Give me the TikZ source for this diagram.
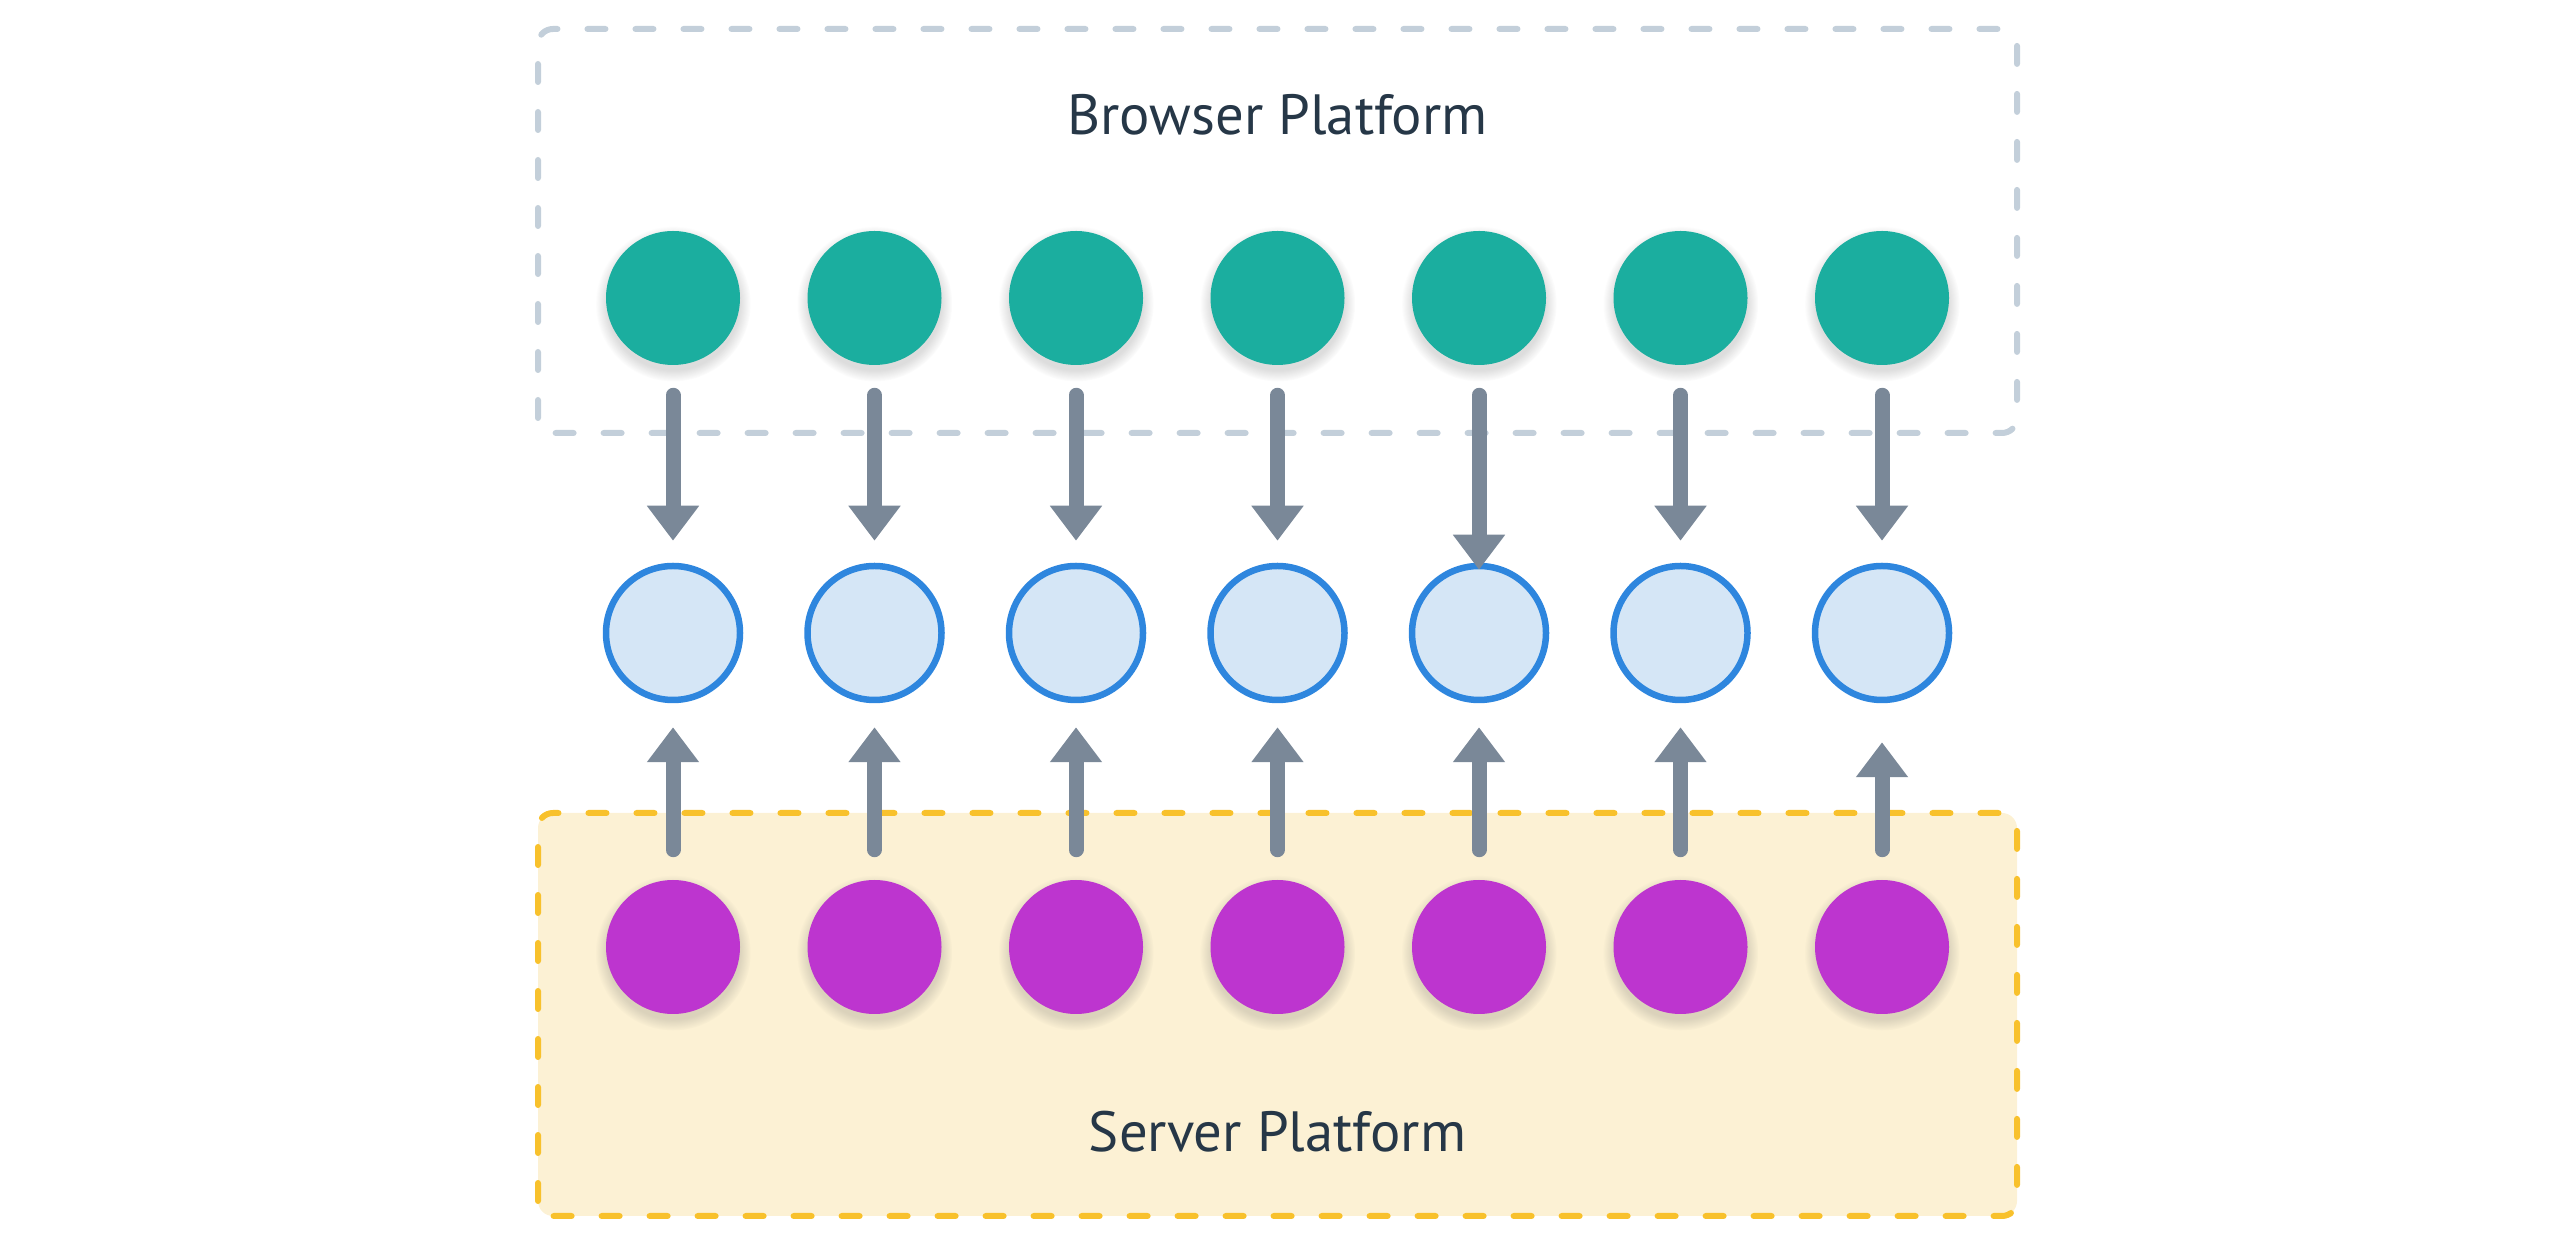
\documentclass[tikz,border=0pt]{standalone}
\usepackage{fontspec}
\setmainfont{PT Sans}
\usepackage{tikz}
\usetikzlibrary{arrows.meta,shadows}
\definecolor{tealdot}{HTML}{1BAE9F}
\definecolor{violetdot}{HTML}{BD35CF}
\definecolor{ringblue}{HTML}{2E86DE}
\definecolor{ringfill}{HTML}{D5E6F6}
\definecolor{slatearrow}{HTML}{7A8898}
\definecolor{mistline}{HTML}{C3CFDA}
\definecolor{goldline}{HTML}{F8C12C}
\definecolor{goldfill}{HTML}{FCF1D4}
\definecolor{inktext}{HTML}{263747}
\newcommand{\platformfont}{\fontsize{41}{48}\selectfont}

\begin{document}
\begin{tikzpicture}[x=1in,y=1in,
  dotshadow/.style={circular drop shadow={shadow xshift=0in, shadow yshift=-0.05in,
    shadow scale=1.16, opacity=0.22, fill=black!60}},
  browserdot/.style={circle, fill=tealdot, minimum size=1.34in, inner sep=0pt, dotshadow},
  serverdot/.style={circle, fill=violetdot, minimum size=1.34in, inner sep=0pt, dotshadow},
  bridgering/.style={circle, draw=ringblue, fill=ringfill, line width=0.065in,
    minimum size=1.34in, inner sep=0pt, outer sep=auto},
  platformbox/.style={line width=0.06in, dash pattern=on 0.18in off 0.30in,
    line cap=round, rounded corners=0.15in},
  flow/.style={draw=slatearrow, fill=slatearrow, line width=0.15in, line cap=round,
    -{Triangle[width=0.50in, length=0.35in]},
    shorten <=0.30in},
  platformlabel/.style={font=\platformfont, text=inktext, anchor=base, inner sep=0pt}]
\useasboundingbox (0,0) rectangle (25.58,12.46);

% platforms
\draw[platformbox, draw=mistline] (5.38,8.13) rectangle (20.17,12.17);
\filldraw[platformbox, draw=goldline, fill=goldfill] (5.38,0.30) rectangle (20.17,4.33);
\node[platformlabel] (browserlbl) at (12.775,11.11) {Browser Platform};
\node[platformlabel] (serverlbl) at (12.775,0.94) {Server Platform};

% browser side
\node[browserdot] (b1) at (6.73,9.48) {};
\node[browserdot] (b2) at (8.745,9.48) {};
\node[browserdot] (b3) at (10.76,9.48) {};
\node[browserdot] (b4) at (12.775,9.48) {};
\node[browserdot] (b5) at (14.79,9.48) {};
\node[browserdot] (b6) at (16.805,9.48) {};
\node[browserdot] (b7) at (18.82,9.48) {};

% shared middle
\node[bridgering] (m1) at (6.73,6.13) {};
\node[bridgering] (m2) at (8.745,6.13) {};
\node[bridgering] (m3) at (10.76,6.13) {};
\node[bridgering] (m4) at (12.775,6.13) {};
\node[bridgering] (m5) at (14.79,6.13) {};
\node[bridgering] (m6) at (16.805,6.13) {};
\node[bridgering] (m7) at (18.82,6.13) {};

% server side
\node[serverdot] (s1) at (6.73,2.99) {};
\node[serverdot] (s2) at (8.745,2.99) {};
\node[serverdot] (s3) at (10.76,2.99) {};
\node[serverdot] (s4) at (12.775,2.99) {};
\node[serverdot] (s5) at (14.79,2.99) {};
\node[serverdot] (s6) at (16.805,2.99) {};
\node[serverdot] (s7) at (18.82,2.99) {};

% downward
\draw[flow, shorten >=0.22in] (b1) -- (m1);
\draw[flow, shorten >=0.22in] (b2) -- (m2);
\draw[flow, shorten >=0.22in] (b3) -- (m3);
\draw[flow, shorten >=0.22in] (b4) -- (m4);
\draw[flow, shorten >=-0.07in] (b5) -- (m5);
\draw[flow, shorten >=0.22in] (b6) -- (m6);
\draw[flow, shorten >=0.22in] (b7) -- (m7);

% upward
\draw[flow, shorten >=0.24in] (s1) -- (m1);
\draw[flow, shorten >=0.24in] (s2) -- (m2);
\draw[flow, shorten >=0.24in] (s3) -- (m3);
\draw[flow, shorten >=0.24in] (s4) -- (m4);
\draw[flow, shorten >=0.24in] (s5) -- (m5);
\draw[flow, shorten >=0.24in] (s6) -- (m6);
\draw[flow, shorten >=0.39in] (s7) -- (m7);
\end{tikzpicture}
\end{document}
